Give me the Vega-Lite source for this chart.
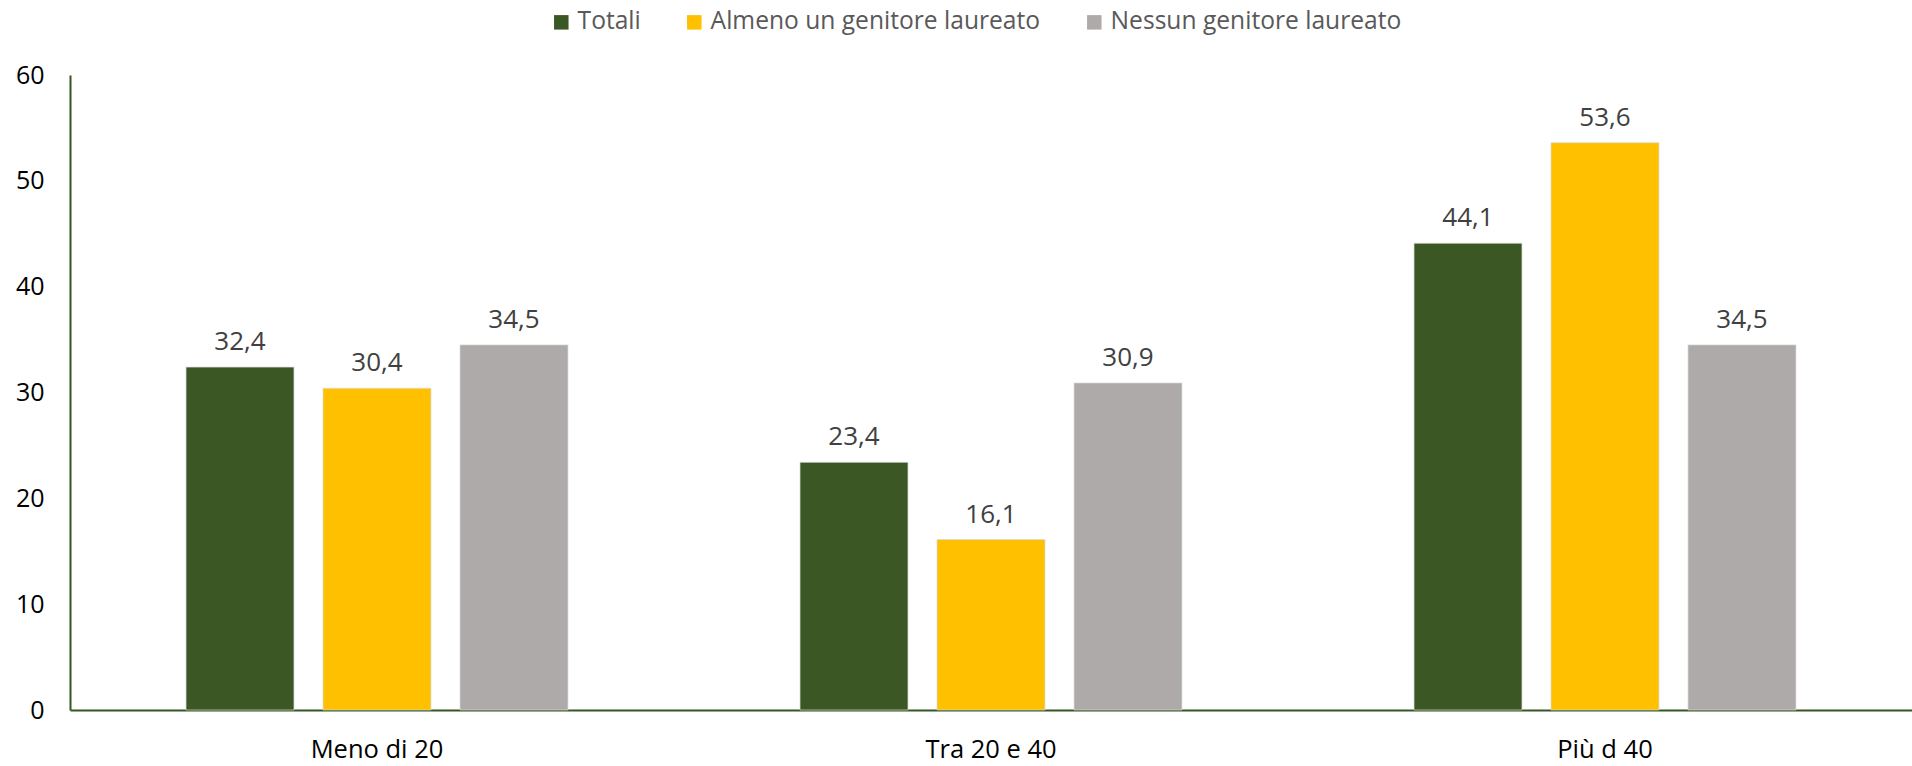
{
  "$schema": "https://vega.github.io/schema/vega-lite/v6.json",
  "width": 1842,
  "height": 635,
  "autosize": "none",
  "padding": {"left": 70, "top": 75, "right": 0, "bottom": 56},
  "background": "white",
  "config": {
    "view": {"stroke": null},
    "font": "Open Sans",
    "locale": {"number": {"decimal": ",", "thousands": ".", "grouping": [3], "currency": ["€", ""]}}
  },
  "data": {
    "values": [
      {"cat": "Meno di 20", "serie": "Totali", "val": 32.4},
      {"cat": "Meno di 20", "serie": "Almeno un genitore laureato", "val": 30.4},
      {"cat": "Meno di 20", "serie": "Nessun genitore laureato", "val": 34.5},
      {"cat": "Tra 20 e 40", "serie": "Totali", "val": 23.4},
      {"cat": "Tra 20 e 40", "serie": "Almeno un genitore laureato", "val": 16.1},
      {"cat": "Tra 20 e 40", "serie": "Nessun genitore laureato", "val": 30.9},
      {"cat": "Più d 40", "serie": "Totali", "val": 44.1},
      {"cat": "Più d 40", "serie": "Almeno un genitore laureato", "val": 53.6},
      {"cat": "Più d 40", "serie": "Nessun genitore laureato", "val": 34.5}
    ]
  },
  "encoding": {
    "x": {
      "field": "cat", "type": "nominal", "sort": null, "title": null,
      "scale": {"paddingInner": 0, "paddingOuter": 0},
      "axis": {"labelAngle": 0, "ticks": false, "domainColor": "#375623", "domainWidth": 2, "labelFontSize": 25.5, "labelColor": "#000000", "labelPadding": 27}
    },
    "xOffset": {
      "field": "serie", "type": "nominal", "sort": ["Totali", "Almeno un genitore laureato", "Nessun genitore laureato"],
      "scale": {"paddingInner": 0.212, "paddingOuter": 0.847}
    },
    "y": {
      "field": "val", "type": "quantitative", "title": null,
      "scale": {"domain": [0, 60], "nice": false},
      "axis": {"values": [0, 10, 20, 30, 40, 50, 60], "grid": false, "ticks": false, "domainColor": "#375623", "domainWidth": 2, "labelFontSize": 25, "labelColor": "#000000", "labelPadding": 26, "format": "d"}
    }
  },
  "layer": [
    {
      "mark": {"type": "bar", "stroke": "#d9d9d9", "strokeWidth": 0.7},
      "encoding": {
        "color": {
          "field": "serie", "type": "nominal",
          "sort": ["Totali", "Almeno un genitore laureato", "Nessun genitore laureato"],
          "scale": {"domain": ["Totali", "Almeno un genitore laureato", "Nessun genitore laureato"], "range": ["#3b5724", "#ffc000", "#aeaaaa"]},
          "legend": {
            "title": null, "orient": "none", "direction": "horizontal", "columns": 3,
            "legendX": 479, "legendY": -65,
            "symbolType": "square", "symbolSize": 210, "symbolStrokeWidth": 0,
            "labelFontSize": 24.6, "labelColor": "#595959", "labelOffset": 4, "labelLimit": 0, "columnPadding": 41
          }
        }
      }
    },
    {
      "mark": {"type": "text", "baseline": "bottom", "dy": -12, "fontSize": 26, "color": "#404040"},
      "encoding": {
        "text": {"field": "val", "type": "quantitative", "format": ".1f"}
      }
    }
  ]
}
